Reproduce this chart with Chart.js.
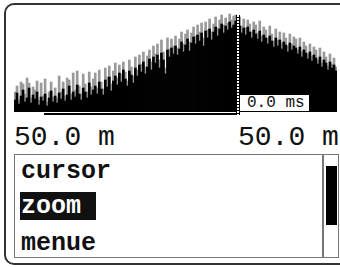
<!DOCTYPE html>
<html>
<head>
<meta charset="utf-8">
<script src="https://cdn.jsdelivr.net/npm/chart.js@4.4.0/dist/chart.umd.min.js"></script>
<style>
  body { margin: 0; width: 340px; height: 267px; overflow: hidden; background: #fff; position: relative; }
  .frame { position: absolute; left: 4px; top: 3px; width: 380px; height: 262px; box-sizing: border-box;
           border: 2px solid #333; border-radius: 10px; }
  #scope { position: absolute; left: 14px; top: 12px; width: 323px; height: 104px; }
  .mono { position: absolute; font-family: "Liberation Mono", monospace; color: #111; white-space: pre; }
  .dist { font-size: 28px; line-height: 28px; top: 124px; }
  .msbox { position: absolute; left: 239px; top: 94px; width: 71px; height: 18px; box-sizing: border-box;
           border: 1.5px solid #000; background: #fff; }
  .ms { font-size: 16px; line-height: 16px; left: 247px; top: 95px; }
  .menu { position: absolute; left: 14px; top: 154px; width: 325px; height: 104px; box-sizing: border-box;
          border: 1.5px solid #777; }
  .sep { position: absolute; left: 322px; top: 154px; width: 1.5px; height: 104px; background: #777; }
  .thumb { position: absolute; left: 326px; top: 166px; width: 11px; height: 59px; background: #000; }
  .item { font-size: 25px; line-height: 25px; font-weight: bold; left: 21px; }
  .sel { position: absolute; left: 20px; top: 192px; width: 76px; height: 28px; background: #111; }
</style>
</head>
<body>
<div class="frame"></div>
<canvas id="scope" width="323" height="104"></canvas>
<div class="msbox"></div>
<div class="mono ms" id="cursorTime"></div>
<div class="mono dist" id="distLeft" style="left:14px"></div>
<div class="mono dist" id="distRight" style="left:238px"></div>
<div class="menu"></div>
<div class="sep"></div>
<div class="thumb"></div>
<div class="sel"></div>
<div class="mono item" id="item0" style="top:159px"></div>
<div class="mono item" id="item1" style="top:194px;color:#fff"></div>
<div class="mono item" id="item2" style="top:231px"></div>
<script>
// level per bin (black) and peak hold (gray), 0..100
const avgLevel = [
  12, 19, 8, 16, 22, 10, 14, 24, 9, 17,
  13, 20, 7, 15, 11, 18, 6, 14, 21, 10,
  16, 9, 19, 13, 23, 11, 17, 26, 12, 20,
  15, 27, 18, 12, 24, 20, 14, 29, 17, 22,
  26, 18, 30, 23, 17, 32, 25, 35, 21, 31,
  36, 27, 39, 30, 42, 33, 26, 41, 37, 29,
  44, 36, 47, 40, 50, 38, 45, 53, 42, 55,
  49, 57, 44, 59, 52, 38, 62, 55, 64, 58,
  66, 57, 63, 70, 60, 67, 73, 61, 69, 75,
  68, 77, 71, 79, 66, 81, 74, 83, 72, 80,
  85, 76, 83, 88, 79, 86, 82, 90, 84, 87,
  91, 82, 86, 79, 84, 77, 85, 80, 74, 82,
  78, 73, 81, 70, 77, 74, 68, 76, 71, 65,
  74, 66, 72, 63, 70, 67, 60, 69, 62, 66,
  64, 58, 65, 55, 62, 59, 53, 60, 51, 57,
  54, 48, 55, 45, 52, 49, 42, 50, 44, 47, 41
];
const peakLevel = [
  20, 26, 12, 30, 28, 18, 34, 29, 14, 25,
  22, 31, 12, 29, 16, 33, 10, 20, 30, 15,
  24, 14, 36, 20, 30, 16, 34, 32, 18, 39,
  22, 41, 26, 18, 38, 28, 20, 40, 25, 33,
  39, 24, 42, 30, 23, 44, 35, 46, 28, 41,
  49, 34, 47, 38, 50, 40, 31, 52, 45, 36,
  55, 42, 57, 48, 60, 45, 56, 62, 50, 66,
  58, 68, 52, 72, 60, 44, 74, 63, 73, 66,
  76, 64, 73, 80, 68, 78, 82, 70, 79, 85,
  76, 87, 80, 89, 74, 90, 82, 93, 80, 88,
  95, 84, 92, 97, 87, 94, 89, 98, 92, 96,
  97, 90, 95, 86, 93, 84, 92, 88, 80, 90,
  87, 79, 91, 76, 85, 82, 74, 86, 78, 71,
  83, 72, 80, 69, 79, 74, 66, 78, 68, 75,
  73, 62, 74, 60, 70, 66, 58, 68, 56, 65,
  62, 52, 64, 49, 60, 55, 46, 58, 48, 54, 45
];
const bins = avgLevel.map((v, i) => i);
const cursorIndex = 111;
const rangeStart = 15;
const cursorTime = "0.0 ms";
const distances = ["50.0 m", "50.0 m"];
const menuItems = ["cursor", "zoom", "menue"];

document.getElementById("cursorTime").textContent = cursorTime;
document.getElementById("distLeft").textContent = distances[0];
document.getElementById("distRight").textContent = distances[1];
menuItems.forEach((t, i) => { document.getElementById("item" + i).textContent = t; });

// cursor line + range bar
const overlay = {
  id: "overlay",
  afterDatasetsDraw(chart) {
    const { ctx, chartArea, scales: { x } } = chart;
    const step = x.getPixelForValue(1) - x.getPixelForValue(0);
    const cx = Math.round(x.getPixelForValue(cursorIndex));
    const x0 = x.getPixelForValue(rangeStart) - step / 2;
    ctx.save();
    ctx.fillStyle = "#000";
    ctx.fillRect(x0, chartArea.bottom + 1, cx - x0, 2);
    ctx.fillRect(cx - 2, 3, 4, chartArea.bottom);
    ctx.strokeStyle = "#fff";
    ctx.lineWidth = 2;
    ctx.setLineDash([2, 1]);
    ctx.beginPath();
    ctx.moveTo(cx, 3);
    ctx.lineTo(cx, chartArea.bottom + 3);
    ctx.stroke();
    ctx.restore();
  }
};

new Chart(document.getElementById("scope"), {
  type: "bar",
  data: {
    labels: bins,
    datasets: [
      { data: avgLevel, backgroundColor: "#000", order: 1, grouped: false,
        barPercentage: 1, categoryPercentage: 1 },
      { data: peakLevel, backgroundColor: "#9a9a9a", order: 2, grouped: false,
        barPercentage: 1, categoryPercentage: 1 }
    ]
  },
  options: {
    responsive: false,
    animation: false,
    devicePixelRatio: 1,
    layout: { padding: { bottom: 4 } },
    plugins: { legend: { display: false }, tooltip: { enabled: false } },
    scales: {
      x: { display: false },
      y: { display: false, min: 0, max: 100 }
    }
  },
  plugins: [overlay]
});
</script>
</body>
</html>
